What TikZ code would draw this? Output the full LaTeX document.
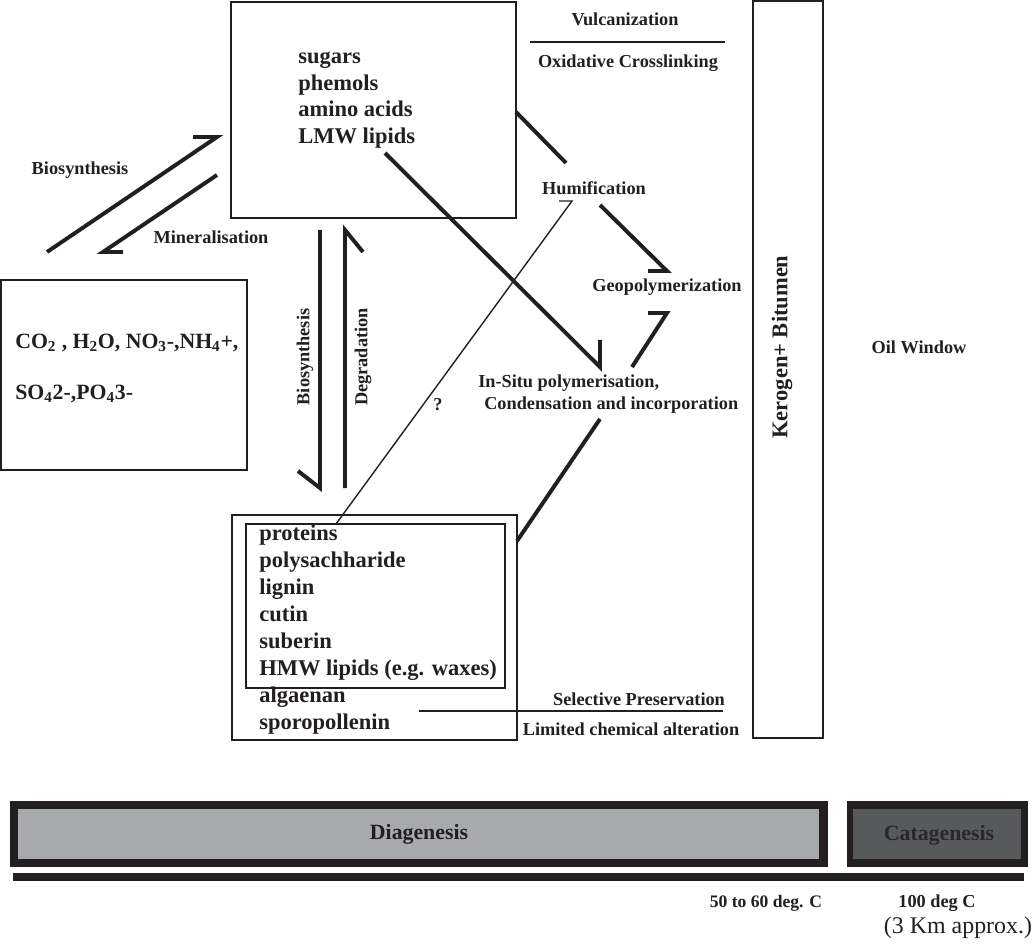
\documentclass[tikz,border=0pt]{standalone}
\usepackage{fontspec}
\setmainfont{Liberation Serif}
\usepackage{xcolor}
\definecolor{inkblack}{RGB}{35, 31, 32}
\definecolor{diaggray}{RGB}{167, 169, 172}
\definecolor{catagray}{RGB}{88, 89, 91}
\definecolor{catatext}{RGB}{40, 40, 42}

\tikzset{
  lbl/.style={font=\fontsize{13}{15}\selectfont\bfseries, inner sep=0pt},
  listtxt/.style={font=\fontsize{16}{19}\selectfont\bfseries, inner sep=0pt, anchor=base west},
  heavy/.style={line width=2.8pt, line join=miter},
  fineline/.style={line width=1pt, line join=miter},
  boxline/.style={line width=1.6pt}
}

\begin{document}
\begin{tikzpicture}[x=0.025cm, y=-0.025cm, color=inkblack]
    \useasboundingbox (0,0) rectangle (1033,945);

    % boxes
    \draw[boxline] (231,2) rectangle (516,218);
    \draw[boxline] (1,280) rectangle (247,470);
    \draw[boxline] (232,515) rectangle (517,740);
    \draw[line width=1.9pt] (246,524) rectangle (505,688);
    \draw[boxline] (753,1) rectangle (823,738);

    % box contents
    \foreach \w [count=\i] in {sugars, phemols, amino acids, LMW lipids}
        \node[listtxt] (mono\i) at (298, 64+26.5*\i-26.5) {\w};
    \foreach \w [count=\i] in {proteins, polysachharide, lignin, cutin, suberin, {HMW lipids (e.g. waxes)}, algaenan, sporopollenin}
        \node[listtxt] (poly\i) at (259, 540+27*\i-27) {\w};
    \node[anchor=west, inner sep=0pt, font=\fontsize{15.5}{18}\selectfont\bfseries] (inorg1) at (15,343)
        {CO\textsubscript{2} , H\textsubscript{2}O, NO\textsubscript{3}-,NH\textsubscript{4}+,};
    \node[anchor=west, inner sep=0pt, font=\fontsize{15.5}{18}\selectfont\bfseries] (inorg2) at (15,394)
        {SO\textsubscript{4}2-,PO\textsubscript{4}3-};
    \node[rotate=90, inner sep=0pt, font=\fontsize{16}{19}\selectfont\bfseries] (kerogen) at (782,347) {Kerogen+ Bitumen};

    % process labels
    \node[lbl] (bioleft) at (80,170) {Biosynthesis};
    \node[lbl] (mineral) at (211,237) {Mineralisation};
    \node[lbl, rotate=90] (biodown) at (305,357) {Biosynthesis};
    \node[lbl, rotate=90] (degrad) at (363,357) {Degradation};
    \node[lbl] (vulcan) at (625,19) {Vulcanization};
    \node[lbl] (oxid) at (628,63) {Oxidative Crosslinking};
    \node[lbl] (humif) at (594,188) {Humification};
    \node[lbl] (geopol) at (667,287) {Geopolymerization};
    \node[lbl, anchor=west] (insitu) at (478,383) {In-Situ polymerisation,};
    \node[lbl, anchor=west] (conden) at (484,405) {Condensation and incorporation};
    \node[lbl] (query) at (438,405) {?};
    \node[lbl] (selpres) at (639,699) {Selective Preservation};
    \node[lbl] (limalt) at (631,729) {Limited chemical alteration};
    \node[lbl] (oilwin) at (919,347) {Oil Window};

    % separators
    \coordinate (vcA) at (530,42);
    \coordinate (vcB) at (725,42);
    \draw[line width=2pt] (vcA) -- (vcB);
    \coordinate (spA) at (419,711);
    \coordinate (spB) at (723,711);
    \draw[line width=1.8pt] (spA) -- (spB);

    % half arrows
    \coordinate (bsA) at (47,252);
    \coordinate (bsB) at (217,137);
    \draw[heavy] (bsA) -- (bsB) -- ++(-24,0);
    \coordinate (mnA) at (217,175);
    \coordinate (mnB) at (103,252);
    \draw[heavy] (mnA) -- (mnB) -- ++(20,0);
    \coordinate (vbA) at (320,230);
    \coordinate (vbB) at (320,488);
    \draw[heavy] (vbA) -- (vbB) -- ++(-22,-17);
    \coordinate (dgA) at (345,488);
    \coordinate (dgB) at (345,230);
    \draw[heavy] (dgA) -- (dgB) -- ++(18,22);
    \coordinate (hmA) at (516,112);
    \coordinate (hmB) at (566,163);
    \draw[heavy] (hmA) -- (hmB);
    \coordinate (hgA) at (600,205);
    \coordinate (hgB) at (667,271);
    \draw[heavy] (hgA) -- (hgB) -- ++(-19,0);
    \coordinate (lmA) at (385,153);
    \coordinate (lmB) at (600,367);
    \draw[heavy] (lmA) -- (lmB) -- ++(0,-27);
    \coordinate (igA) at (632,367);
    \coordinate (igB) at (667,313);
    \draw[heavy] (igA) -- (igB) -- ++(-19,0);
    \coordinate (pcA) at (517,541);
    \coordinate (pcB) at (600,419);
    \draw[heavy] (pcA) -- (pcB);
    \coordinate (qA) at (336,524);
    \coordinate (qB) at (572,201);
    \draw[fineline] (qA) -- (qB) -- ++(-13,0);

    % stages
    \fill[inkblack] (10,801) rectangle (828,867);
    \fill[diaggray] (18,809) rectangle (819,859);
    \node[font=\fontsize{15.5}{18}\selectfont\bfseries, inner sep=0pt] (diagen) at (419,834) {Diagenesis};
    \fill[inkblack] (847,801) rectangle (1028,867);
    \fill[catagray] (853,809) rectangle (1021,859);
    \node[font=\fontsize{15.5}{18}\selectfont\bfseries, text=catatext, inner sep=0pt] (catagen) at (939,835) {Catagenesis};
    \fill[inkblack] (13,873) rectangle (1024,881);

    \node[font=\fontsize{12.5}{15}\selectfont\bfseries, inner sep=0pt] (tlow) at (766,903) {50 to 60 deg. C};
    \node[lbl] (thigh) at (937,903) {100 deg C};
    \node[font=\fontsize{17}{20}\selectfont, inner sep=0pt] (depth) at (958,928) {(3 Km approx.)};
\end{tikzpicture}
\end{document}
